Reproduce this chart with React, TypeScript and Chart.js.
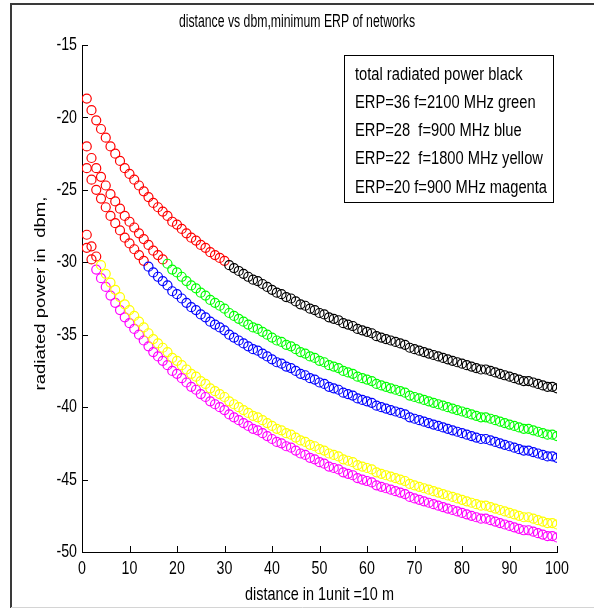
import React, { useEffect, useRef } from "react";
import { Chart, registerables } from "chart.js";

Chart.register(...registerables);

const TITLE = "distance vs dbm,minimum ERP of networks";
const X_TITLE = "distance in 1unit =10 m";
const Y_TITLE = "radiated power in  dbm,";

const X_TICKS = [0, 10, 20, 30, 40, 50, 60, 70, 80, 90, 100];
const Y_TICKS = [-50, -45, -40, -35, -30, -25, -20, -15];

const THRESHOLD = -30;

const LEGEND_LINES = [
  "total radiated power black",
  "ERP=36 f=2100 MHz green",
  "ERP=28  f=900 MHz blue",
  "ERP=22  f=1800 MHz yellow",
  "ERP=20 f=900 MHz magenta",
];

const DISTANCE = [
  1, 2, 3, 4, 5, 6, 7, 8, 9, 10,
  11, 12, 13, 14, 15, 16, 17, 18, 19, 20,
  21, 22, 23, 24, 25, 26, 27, 28, 29, 30,
  31, 32, 33, 34, 35, 36, 37, 38, 39, 40,
  41, 42, 43, 44, 45, 46, 47, 48, 49, 50,
  51, 52, 53, 54, 55, 56, 57, 58, 59, 60,
  61, 62, 63, 64, 65, 66, 67, 68, 69, 70,
  71, 72, 73, 74, 75, 76, 77, 78, 79, 80,
  81, 82, 83, 84, 85, 86, 87, 88, 89, 90,
  91, 92, 93, 94, 95, 96, 97, 98, 99, 100,
];

const TOTAL_BLACK = [
  -18.7, -19.5, -20.2, -20.8, -21.4, -22.0, -22.5, -23.0, -23.5, -23.9,
  -24.3, -24.7, -25.1, -25.5, -25.9, -26.2, -26.5, -26.8, -27.2, -27.4,
  -27.7, -28.0, -28.3, -28.5, -28.8, -29.0, -29.3, -29.5, -29.7, -29.9,
  -30.2, -30.4, -30.6, -30.8, -31.0, -31.2, -31.3, -31.5, -31.7, -31.9,
  -32.1, -32.2, -32.4, -32.5, -32.7, -32.9, -33.0, -33.2, -33.3, -33.5,
  -33.6, -33.8, -33.9, -34.0, -34.2, -34.3, -34.4, -34.6, -34.7, -34.8,
  -34.9, -35.1, -35.2, -35.3, -35.4, -35.5, -35.6, -35.7, -35.9, -36.0,
  -36.1, -36.2, -36.3, -36.4, -36.5, -36.6, -36.7, -36.8, -36.9, -37.0,
  -37.1, -37.2, -37.3, -37.4, -37.4, -37.5, -37.6, -37.7, -37.8, -37.9,
  -38.0, -38.1, -38.2, -38.2, -38.3, -38.4, -38.5, -38.6, -38.6, -38.7,
];

const ERP36_GREEN = [
  -22.0, -22.8, -23.5, -24.1, -24.7, -25.3, -25.8, -26.3, -26.8, -27.2,
  -27.6, -28.0, -28.4, -28.8, -29.2, -29.5, -29.8, -30.1, -30.5, -30.7,
  -31.0, -31.3, -31.6, -31.8, -32.1, -32.3, -32.6, -32.8, -33.0, -33.2,
  -33.5, -33.7, -33.9, -34.1, -34.3, -34.5, -34.6, -34.8, -35.0, -35.2,
  -35.4, -35.5, -35.7, -35.8, -36.0, -36.2, -36.3, -36.5, -36.6, -36.8,
  -36.9, -37.1, -37.2, -37.3, -37.5, -37.6, -37.7, -37.9, -38.0, -38.1,
  -38.2, -38.4, -38.5, -38.6, -38.7, -38.8, -38.9, -39.0, -39.2, -39.3,
  -39.4, -39.5, -39.6, -39.7, -39.8, -39.9, -40.0, -40.1, -40.2, -40.3,
  -40.4, -40.5, -40.6, -40.7, -40.7, -40.8, -40.9, -41.0, -41.1, -41.2,
  -41.3, -41.4, -41.5, -41.5, -41.6, -41.7, -41.8, -41.9, -41.9, -42.0,
];

const ERP28_BLUE = [
  -23.5, -24.3, -25.0, -25.6, -26.2, -26.8, -27.3, -27.8, -28.3, -28.7,
  -29.1, -29.5, -29.9, -30.3, -30.7, -31.0, -31.3, -31.6, -32.0, -32.2,
  -32.5, -32.8, -33.1, -33.3, -33.6, -33.8, -34.1, -34.3, -34.5, -34.7,
  -35.0, -35.2, -35.4, -35.6, -35.8, -36.0, -36.1, -36.3, -36.5, -36.7,
  -36.9, -37.0, -37.2, -37.3, -37.5, -37.7, -37.8, -38.0, -38.1, -38.3,
  -38.4, -38.6, -38.7, -38.8, -39.0, -39.1, -39.2, -39.4, -39.5, -39.6,
  -39.7, -39.9, -40.0, -40.1, -40.2, -40.3, -40.4, -40.5, -40.7, -40.8,
  -40.9, -41.0, -41.1, -41.2, -41.3, -41.4, -41.5, -41.6, -41.7, -41.8,
  -41.9, -42.0, -42.1, -42.2, -42.2, -42.3, -42.4, -42.5, -42.6, -42.7,
  -42.8, -42.9, -43.0, -43.0, -43.1, -43.2, -43.3, -43.4, -43.4, -43.5,
];

const ERP22_YELLOW = [
  -28.1, -28.9, -29.6, -30.2, -30.8, -31.4, -31.9, -32.4, -32.9, -33.3,
  -33.7, -34.1, -34.5, -34.9, -35.3, -35.6, -35.9, -36.2, -36.6, -36.8,
  -37.1, -37.4, -37.7, -37.9, -38.2, -38.4, -38.7, -38.9, -39.1, -39.3,
  -39.6, -39.8, -40.0, -40.2, -40.4, -40.6, -40.7, -40.9, -41.1, -41.3,
  -41.5, -41.6, -41.8, -41.9, -42.1, -42.3, -42.4, -42.6, -42.7, -42.9,
  -43.0, -43.2, -43.3, -43.4, -43.6, -43.7, -43.8, -44.0, -44.1, -44.2,
  -44.3, -44.5, -44.6, -44.7, -44.8, -44.9, -45.0, -45.1, -45.3, -45.4,
  -45.5, -45.6, -45.7, -45.8, -45.9, -46.0, -46.1, -46.2, -46.3, -46.4,
  -46.5, -46.6, -46.7, -46.8, -46.8, -46.9, -47.0, -47.1, -47.2, -47.3,
  -47.4, -47.5, -47.6, -47.6, -47.7, -47.8, -47.9, -48.0, -48.0, -48.1,
];

const ERP20_MAGENTA = [
  -29.0, -29.8, -30.5, -31.1, -31.7, -32.3, -32.8, -33.3, -33.8, -34.2,
  -34.6, -35.0, -35.4, -35.8, -36.2, -36.5, -36.8, -37.1, -37.5, -37.7,
  -38.0, -38.3, -38.6, -38.8, -39.1, -39.3, -39.6, -39.8, -40.0, -40.2,
  -40.5, -40.7, -40.9, -41.1, -41.3, -41.5, -41.6, -41.8, -42.0, -42.2,
  -42.4, -42.5, -42.7, -42.8, -43.0, -43.2, -43.3, -43.5, -43.6, -43.8,
  -43.9, -44.1, -44.2, -44.3, -44.5, -44.6, -44.7, -44.9, -45.0, -45.1,
  -45.2, -45.4, -45.5, -45.6, -45.7, -45.8, -45.9, -46.0, -46.2, -46.3,
  -46.4, -46.5, -46.6, -46.7, -46.8, -46.9, -47.0, -47.1, -47.2, -47.3,
  -47.4, -47.5, -47.6, -47.7, -47.7, -47.8, -47.9, -48.0, -48.1, -48.2,
  -48.3, -48.4, -48.5, -48.5, -48.6, -48.7, -48.8, -48.9, -48.9, -49.0,
];

const SERIES = [
  { label: "total radiated power", values: TOTAL_BLACK, color: "#000000" },
  { label: "ERP=36 f=2100 MHz", values: ERP36_GREEN, color: "#00ff00" },
  { label: "ERP=28 f=900 MHz", values: ERP28_BLUE, color: "#0000ff" },
  { label: "ERP=22 f=1800 MHz", values: ERP22_YELLOW, color: "#ffff00" },
  { label: "ERP=20 f=900 MHz", values: ERP20_MAGENTA, color: "#ff00ff" },
];

const FONT_FAMILY = '"Liberation Sans", Arial, sans-serif';

function drawText(
  ctx: CanvasRenderingContext2D,
  text: string,
  x: number,
  y: number,
  size: number,
  sx: number,
  align: CanvasTextAlign,
  rot = 0
) {
  ctx.save();
  ctx.translate(x, y);
  if (rot) ctx.rotate(rot);
  ctx.scale(sx, 1);
  ctx.font = `${size}px ${FONT_FAMILY}`;
  ctx.textAlign = align;
  ctx.textBaseline = "middle";
  ctx.fillStyle = "#000";
  ctx.fillText(text, 0, 0);
  ctx.restore();
}

const decorations = {
  id: "decorations",
  beforeDraw(chart: any) {
    const { ctx } = chart;
    ctx.save();
    ctx.fillStyle = "#ffffff";
    ctx.fillRect(0, 0, chart.width, chart.height);
    ctx.strokeStyle = "#3a3a3a";
    ctx.lineWidth = 2;
    ctx.beginPath();
    ctx.moveTo(11, 608);
    ctx.lineTo(11, 4);
    ctx.lineTo(chart.width, 4);
    ctx.stroke();
    ctx.strokeStyle = "#d4d4d4";
    ctx.lineWidth = 1;
    ctx.beginPath();
    ctx.moveTo(11, 607.5);
    ctx.lineTo(chart.width, 607.5);
    ctx.stroke();
    ctx.restore();
  },
  afterDraw(chart: any) {
    const { ctx, chartArea } = chart;
    const xs = chart.scales.x;
    const ys = chart.scales.y;
    ctx.save();
    // inward tick marks
    ctx.strokeStyle = "#000";
    ctx.lineWidth = 1;
    ctx.beginPath();
    const tl = 6;
    X_TICKS.forEach((v) => {
      const px = Math.round(xs.getPixelForValue(v)) + 0.5;
      ctx.moveTo(px, chartArea.bottom);
      ctx.lineTo(px, chartArea.bottom - tl);
    });
    Y_TICKS.forEach((v) => {
      const py = Math.round(ys.getPixelForValue(v)) + 0.5;
      ctx.moveTo(chartArea.left, py);
      ctx.lineTo(chartArea.left + tl, py);
    });
    ctx.stroke();

    // tick labels
    X_TICKS.forEach((v) => {
      drawText(ctx, String(v), xs.getPixelForValue(v), chartArea.bottom + 17, 18.5, 0.77, "center");
    });
    Y_TICKS.forEach((v) => {
      drawText(ctx, String(v), chartArea.left - 5, ys.getPixelForValue(v), 18.5, 0.77, "right");
    });

    // titles
    drawText(ctx, TITLE, chart.width / 2, 22, 17.5, 0.7, "center");
    drawText(ctx, X_TITLE, (chartArea.left + chartArea.right) / 2, 595, 18.5, 0.78, "center");
    drawText(ctx, Y_TITLE, 41, (chartArea.top + chartArea.bottom) / 2 - 5, 14.5, 1.28, "center", -Math.PI / 2);

    // legend text box
    const bx = 344.5, by = 55.5, bw = 209, bh = 147;
    ctx.fillStyle = "#fff";
    ctx.fillRect(bx, by, bw, bh);
    ctx.strokeStyle = "#000";
    ctx.lineWidth = 1;
    ctx.strokeRect(bx, by, bw, bh);
    LEGEND_LINES.forEach((t, i) => {
      drawText(ctx, t, 355, 75 + i * 28.2, 17.5, 0.84, "left");
    });
    ctx.restore();
  },
};

export default function App() {
  const canvasRef = useRef<HTMLCanvasElement | null>(null);

  useEffect(() => {
    const canvas = canvasRef.current;
    if (!canvas) return;
    const chart = new Chart(canvas, {
      type: "scatter",
      data: {
        datasets: SERIES.map((s) => ({
          label: s.label,
          data: DISTANCE.map((x, i) => ({ x, y: s.values[i] })),
          showLine: false,
          pointStyle: "circle",
          pointRadius: 4.5,
          pointBorderWidth: 1.2,
          pointBackgroundColor: "rgba(0,0,0,0)",
          pointBorderColor: (c: any) =>
            c.raw && c.raw.y > THRESHOLD ? "#ff0000" : s.color,
        })),
      },
      options: {
        responsive: false,
        animation: false,
        events: [],
        layout: { padding: { left: 0, right: 37, top: 45, bottom: 0 } },
        plugins: {
          legend: { display: false },
          tooltip: { enabled: false },
          title: { display: false },
        },
        scales: {
          x: {
            type: "linear",
            min: 0,
            max: 100,
            afterBuildTicks: (s: any) => {
              s.ticks = X_TICKS.map((v) => ({ value: v }));
            },
            afterFit: (s: any) => {
              s.height = 59;
            },
            grid: { display: true, drawOnChartArea: false, drawTicks: false },
            border: { display: true, color: "#000", width: 1 },
            ticks: { display: false },
            title: { display: false },
          },
          y: {
            type: "linear",
            min: -50,
            max: -15,
            afterBuildTicks: (s: any) => {
              s.ticks = Y_TICKS.map((v) => ({ value: v }));
            },
            afterFit: (s: any) => {
              s.width = 82;
            },
            grid: { display: true, drawOnChartArea: false, drawTicks: false },
            border: { display: true, color: "#000", width: 1 },
            ticks: { display: false },
            title: { display: false },
          },
        },
      },
      plugins: [decorations],
    } as any);
    return () => chart.destroy();
  }, []);

  return (
    <div style={{ position: "absolute", left: 0, top: 0, width: 594, height: 611 }}>
      <canvas
        ref={canvasRef}
        width={594}
        height={611}
        style={{ display: "block", width: 594, height: 611 }}
      />
    </div>
  );
}
